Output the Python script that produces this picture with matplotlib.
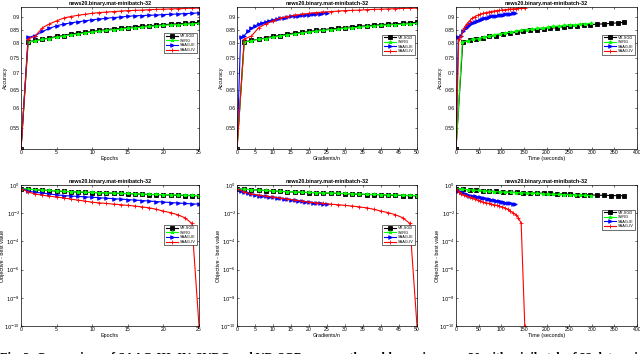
import matplotlib
matplotlib.use("Agg")
import matplotlib.pyplot as plt
from matplotlib.ticker import NullLocator

plt.rcParams['font.family'] = ['Liberation Sans', 'DejaVu Sans']

###############################################################################
# datos
title = "news20.binary.mat-minibatch-32"
methods = ["VR-SGD", "SVRG", "SAAG-III", "SAAG-IV"]

epochs = [0, 1, 2, 3, 4, 5, 6, 7, 8, 9, 10, 11, 12, 13, 14, 15, 16, 17, 18, 19, 20, 21, 22, 23, 24, 25]

# gradientes/n por metodo
grad_vr = [0, 2, 4, 6, 8, 10, 12, 14, 16, 18, 20, 22, 24, 26, 28, 30, 32, 34, 36, 38, 40, 42, 44, 46, 48, 50]
grad_svrg = grad_vr
grad_s3 = epochs
grad_s4 = grad_vr

# tiempo (segundos) por metodo
time_vr = [0, 15, 30, 44, 59, 74, 89, 104, 119, 134, 149, 164, 179, 194, 208, 223, 238, 253, 268, 283, 297, 312, 327, 342, 357, 372]
time_svrg = [0, 14, 26, 38, 50, 61, 73, 85, 97, 109, 121, 132, 144, 156, 168, 180, 192, 203, 215, 227, 239, 251, 263, 274, 286, 298]
time_s3 = [0, 5, 10, 16, 21, 26, 31, 36, 42, 47, 52, 57, 62, 68, 73, 78, 83, 88, 94, 99, 104, 109, 114, 120, 125, 130]
time_s4 = [0, 6, 12, 18, 24, 30, 36, 42, 48, 54, 60, 66, 72, 78, 84, 90, 96, 102, 108, 114, 120, 126, 132, 138, 144, 152]

# accuracy
acc_vr = [0.5, 0.805, 0.810, 0.815, 0.819, 0.825, 0.828, 0.834, 0.837, 0.840, 0.843, 0.847, 0.850, 0.853, 0.855,
          0.858, 0.861, 0.863, 0.865, 0.867, 0.869, 0.871, 0.872, 0.874, 0.876, 0.878]
acc_svrg = [0.5, 0.804, 0.809, 0.814, 0.817, 0.822, 0.826, 0.831, 0.834, 0.838, 0.841, 0.844, 0.847, 0.850, 0.852,
            0.855, 0.857, 0.859, 0.862, 0.864, 0.866, 0.868, 0.869, 0.871, 0.872, 0.874]
acc_s3 = [0.5, 0.821, 0.828, 0.843, 0.855, 0.865, 0.871, 0.876, 0.880, 0.884, 0.888, 0.891, 0.894, 0.897, 0.899,
          0.902, 0.904, 0.905, 0.906, 0.907, 0.909, 0.910, 0.911, 0.913, 0.914, 0.916]
acc_s4 = [0.5, 0.815, 0.826, 0.857, 0.872, 0.884, 0.895, 0.901, 0.906, 0.910, 0.914, 0.917, 0.919, 0.921, 0.923,
          0.925, 0.926, 0.927, 0.929, 0.930, 0.931, 0.932, 0.933, 0.934, 0.935, 0.936]

# objective - best value
obj_vr = [0.55, 0.50, 0.46, 0.43, 0.40, 0.37, 0.35, 0.33, 0.315, 0.30, 0.29, 0.28, 0.27, 0.26, 0.25,
          0.24, 0.23, 0.22, 0.21, 0.205, 0.20, 0.19, 0.185, 0.18, 0.175, 0.17]
obj_svrg = [0.55, 0.51, 0.47, 0.44, 0.41, 0.385, 0.36, 0.34, 0.325, 0.31, 0.30, 0.29, 0.28, 0.27, 0.26,
            0.25, 0.24, 0.23, 0.22, 0.215, 0.21, 0.20, 0.195, 0.19, 0.185, 0.18]
obj_s3 = [0.55, 0.37, 0.30, 0.27, 0.23, 0.20, 0.18, 0.165, 0.155, 0.145, 0.135, 0.125, 0.115, 0.107, 0.10,
          0.092, 0.085, 0.079, 0.073, 0.067, 0.062, 0.057, 0.053, 0.049, 0.046, 0.044]
obj_s4 = [0.55, 0.32, 0.23, 0.19, 0.16, 0.14, 0.12, 0.10, 0.085, 0.072, 0.060, 0.054, 0.049, 0.044, 0.040,
          0.036, 0.032, 0.028, 0.024, 0.019, 0.014, 0.011, 0.0078, 0.0048, 0.0019, 1e-10]

acc_ticks = [0.55, 0.6, 0.65, 0.7, 0.75, 0.8, 0.85, 0.9]
acc_ticklabels = ["0.55", "0.6", "0.65", "0.7", "0.75", "0.8", "0.85", "0.9"]
obj_ticks = [1e-10, 1e-8, 1e-6, 1e-4, 1e-2, 1e0]
obj_ticklabels = [r"$10^{-10}$", r"$10^{-8}$", r"$10^{-6}$", r"$10^{-4}$", r"$10^{-2}$", r"$10^{0}$"]

caption = ("Fig. 2: Comparison of SAAG-III, IV, SVRG and VR-SGD on smooth problem using news20 "
           "with minibatch of 32 data points. The")
###############################################################################

styles = [dict(color='k', marker='s'),
          dict(color=(0, 1, 0), marker='*'),
          dict(color=(0, 0, 1), marker='>'),
          dict(color=(1, 0, 0), marker='+')]

W, H = 640.0, 354.0


def caja(x0, x1, ytop, ybot):
    return [x0 / W, 1 - ybot / H, (x1 - x0) / W, (ybot - ytop) / H]


fig = plt.figure(figsize=(6.4, 3.54), dpi=100)

cols = [(21, 199), (237, 417), (456, 637)]
rows = [(7, 149), (185, 326)]

xs = [(epochs, epochs, epochs, epochs),
      (grad_vr, grad_svrg, grad_s3, grad_s4),
      (time_vr, time_svrg, time_s3, time_s4)]
xlabels = ["Epochs", "Gradients/n", "Time (seconds)"]
xlims = [(0, 25), (0, 50), (0, 400)]
xticks = [range(0, 26, 5), range(0, 51, 5), range(0, 401, 50)]
leg_top = [[0.83, 0.82, 0.82], [0.73, 0.73, 0.84]]
ylab_off = [13.5, 16.0]

for r in range(2):
    ys = (acc_vr, acc_svrg, acc_s3, acc_s4) if r == 0 else (obj_vr, obj_svrg, obj_s3, obj_s4)
    for c in range(3):
        ax = fig.add_axes(caja(cols[c][0], cols[c][1], rows[r][0], rows[r][1]))
        for k in range(4):
            ax.plot(xs[c][k], ys[k], label=methods[k], lw=0.8, ms=2.6, mew=0.6, **styles[k])
        ax.set_yscale('log')
        ax.yaxis.set_minor_locator(NullLocator())
        if r == 0:
            ax.set_ylim(0.5, 0.94)
            ax.set_yticks(acc_ticks)
            ax.set_yticklabels(acc_ticklabels)
            ax.set_ylabel("Accuracy", fontsize=3.9)
        else:
            ax.set_ylim(1e-10, 1.0)
            ax.set_yticks(obj_ticks)
            ax.set_yticklabels(obj_ticklabels)
            ax.set_ylabel("Objective - best value", fontsize=3.9)
        ax.yaxis.set_label_coords(-ylab_off[r] / (cols[c][1] - cols[c][0]), 0.5)
        ax.set_xlim(*xlims[c])
        ax.set_xticks(list(xticks[c]))
        ax.set_xlabel(xlabels[c], fontsize=3.9, labelpad=0.5)
        ax.set_title(title, fontsize=3.9, fontweight='bold', pad=1.5)
        ax.tick_params(direction='in', top=True, right=True, labelsize=3.7,
                       length=1.5, width=0.4, pad=1)
        ax.tick_params(axis='y', pad=0.7)
        for s in ax.spines.values():
            s.set_linewidth(0.5)
        ax.legend(loc='upper right', bbox_to_anchor=(1.0, leg_top[r][c]), fontsize=2.8,
                  fancybox=False, edgecolor='k', framealpha=1, borderpad=0.3,
                  handlelength=3.2, labelspacing=0.15, handletextpad=0.5).get_frame().set_linewidth(0.4)

# pie de figura, cortado por el borde inferior como en la original
fig.text(0.0, -7.0 / H, caption, fontsize=8.8, fontweight='bold', family='Liberation Serif',
         ha='left', va='baseline')

fig.savefig("out.png", dpi=100)
